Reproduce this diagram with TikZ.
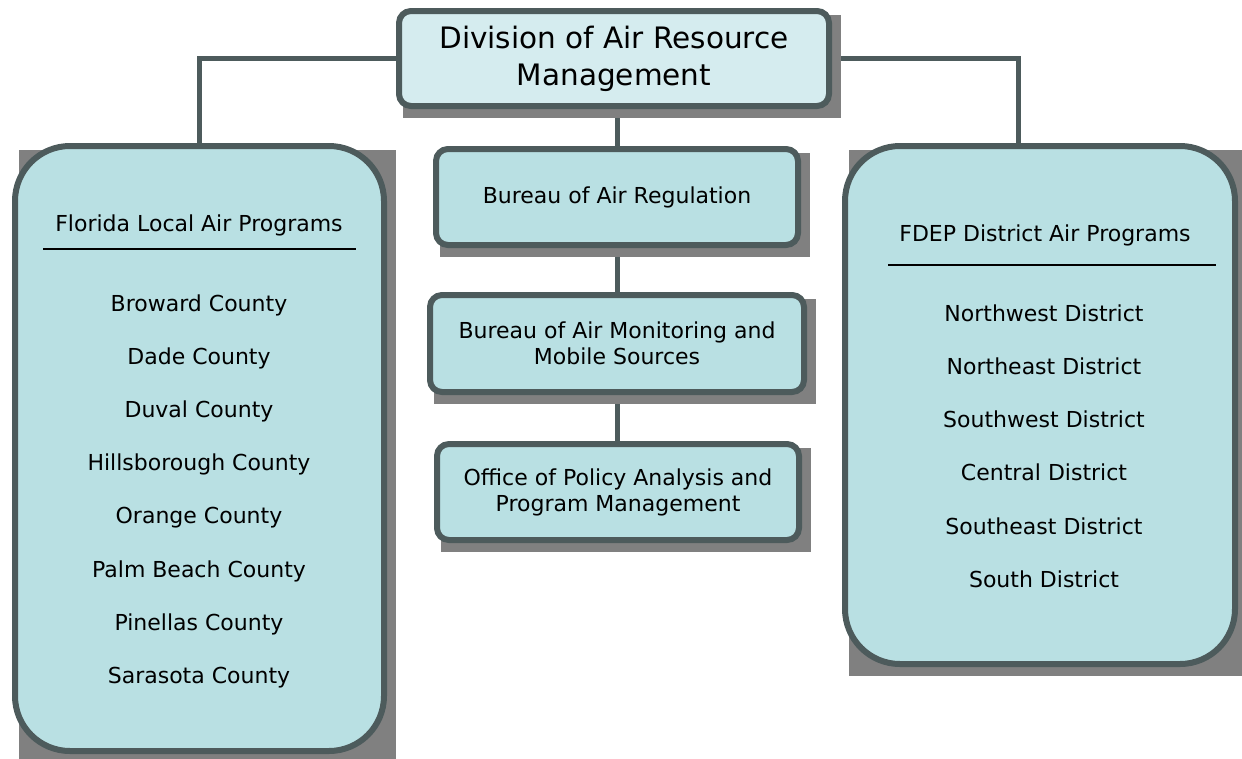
\documentclass[tikz,border=0pt]{standalone}
\usepackage{fontspec}
\setmainfont{DejaVu Sans}
\usepackage{xcolor}
\usepackage{tikz}
\usetikzlibrary{backgrounds}

\definecolor{slateline}{HTML}{4D5B5C}
\definecolor{boxfill}{HTML}{B9E0E3}
\definecolor{headfill}{HTML}{D5ECEF}
\definecolor{shadegray}{gray}{0.5}

\tikzset{
  unit/.style={draw=slateline, line width=6pt, fill=boxfill, rounded corners=12pt,
               inner sep=0pt, outer sep=0pt, align=center},
  bigunit/.style={unit, rounded corners=55pt},
  link/.style={draw=slateline, line width=5pt},
  headrule/.style={draw=black, line width=2pt},
}
% flat grey block behind a box
\newcommand{\boxshadow}[1]{%
  \fill[shadegray] ([shift={(4pt,-4pt)}]#1.north west) rectangle ([shift={(12pt,-12pt)}]#1.south east);}

\begin{document}
\begin{tikzpicture}[x=1pt, y=-1pt, font=\fontsize{22}{26}\selectfont]
        \useasboundingbox (0,0) rectangle (1242,758);
        % boxes
        \node[unit, fill=headfill, minimum width=430pt, minimum height=95pt,
              font=\fontsize{29.5}{37}\selectfont] (div) at (614,58.5)
              {Division of Air Resource\\Management};
        \node[unit, minimum width=362pt, minimum height=96pt] (reg) at (617,197)
              {Bureau of Air Regulation};
        \node[unit, minimum width=374pt, minimum height=97pt] (mon) at (617,343.5)
              {Bureau of Air Monitoring and\\Mobile Sources};
        \node[unit, minimum width=362pt, minimum height=96pt] (pol) at (618,492)
              {Office of Policy Analysis and\\Program Management};
        \node[bigunit, minimum width=369pt, minimum height=605pt] (local) at (199.5,448.5) {};
        \node[bigunit, minimum width=390pt, minimum height=518pt] (dist) at (1040,405) {};
        % local programs list
        \node (localhead) at (199,225) {Florida Local Air Programs};
        \draw[headrule] (43,249) -- (356,249);
        \foreach \cty [count=\i] in {Broward County, Dade County, Duval County,
            Hillsborough County, Orange County, Palm Beach County,
            Pinellas County, Sarasota County}
          \node (loc\i) at (199,251.8+53.2*\i) {\cty};
        % district programs list
        \node (disthead) at (1045,235) {FDEP District Air Programs};
        \draw[headrule] (888,265) -- (1216,265);
        \foreach \dst [count=\i] in {Northwest District, Northeast District,
            Southwest District, Central District, Southeast District, South District}
          \node (dst\i) at (1044,259.8+53.2*\i) {\dst};
        % links and shadows go underneath
        \begin{scope}[on background layer]
          \draw[link] (div.west) -| (local.north);
          \draw[link] (div.east) -| ([xshift=-22pt]dist.north);
          \draw[link] (reg.north |- div.south) -- (reg.north);
          \draw[link] (reg.south) -- (reg.south |- mon.north);
          \draw[link] (mon.south) -- (mon.south |- pol.north);
          \boxshadow{div}
          \boxshadow{reg}
          \boxshadow{mon}
          \boxshadow{pol}
          \boxshadow{local}
          \boxshadow{dist}
        \end{scope}
      \end{tikzpicture}
\end{document}
